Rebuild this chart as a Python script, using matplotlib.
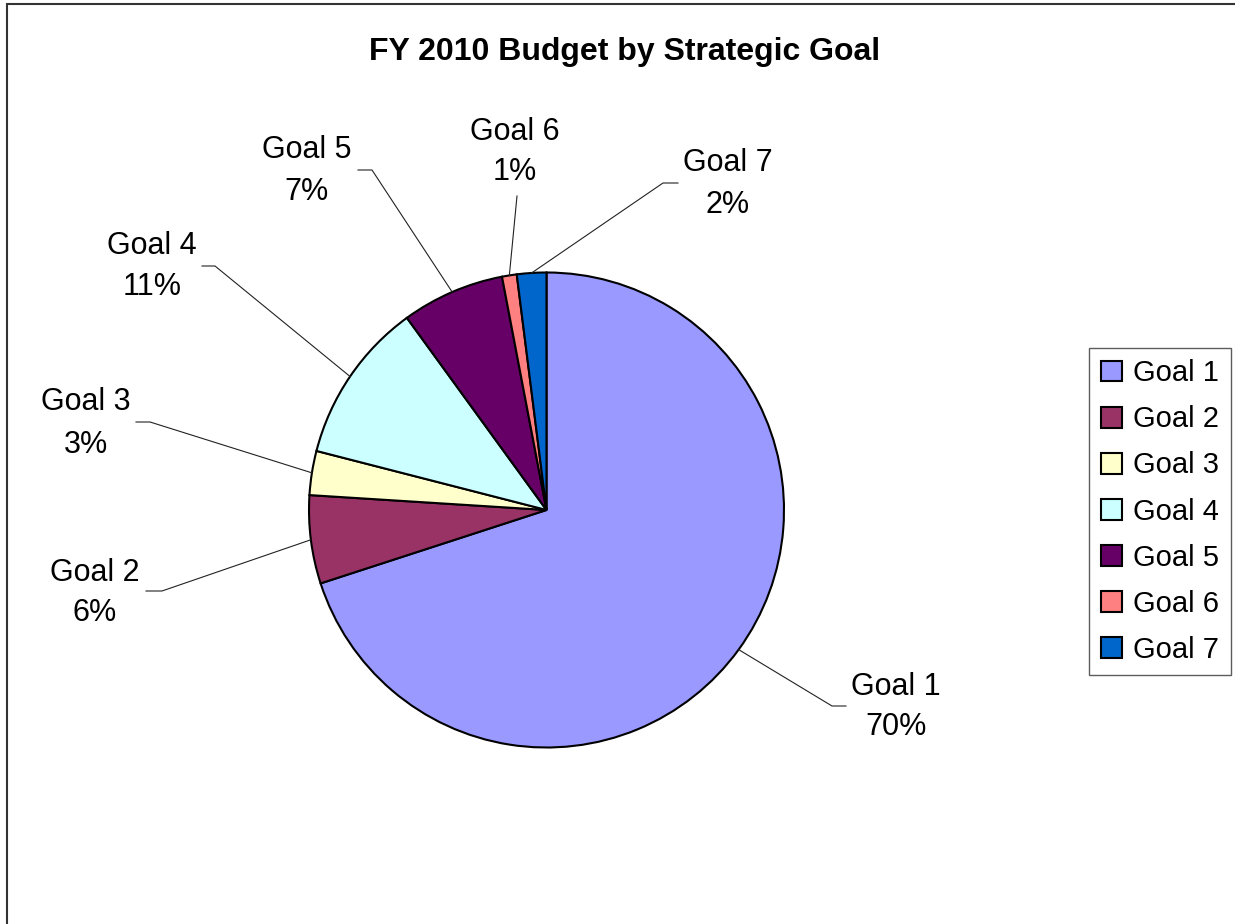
import numpy as np
import matplotlib
matplotlib.use("Agg")
import matplotlib.pyplot as plt
from matplotlib.patches import Rectangle

plt.rcParams['font.family'] = ['Liberation Sans', 'DejaVu Sans']

# chart data
goals = ["Goal 1", "Goal 2", "Goal 3", "Goal 4", "Goal 5", "Goal 6", "Goal 7"]
shares = [70, 6, 3, 11, 7, 1, 2]
colors = ["#9999FF", "#993366", "#FFFFCC", "#CCFFFF", "#660066", "#FF8080", "#0066CC"]
title = "FY 2010 Budget by Strategic Goal"

# layout (figure pixels, measured from top-left): pie and data labels
W, H = 1235, 924
CX, CY, R = 546.5, 510, 237.5
# text centre x, first line y, second line y, elbow x, elbow y, end x of short horizontal tick
label_layout = [
    (896, 687, 727, 832, 706, 846),
    (95, 573, 613, 162, 591, 146),
    (86, 402, 445, 150, 422, 136),
    (152, 246, 287, 215, 266, 202),
    (307, 150, 192, 372, 170, 358),
    (515, 132, 172, 517, 196, 517),
    (728, 163, 205, 663, 183, 678),
]


def to_data(px, py):
    return (px - CX) / R, (CY - py) / R


fig = plt.figure(figsize=(W / 100, H / 100), dpi=100)
ax = fig.add_axes([(CX - R) / W, 1 - (CY + R) / H, 2 * R / W, 2 * R / H])

wedges, _ = ax.pie(shares, colors=colors, startangle=90, counterclock=False, radius=1,
                   wedgeprops=dict(edgecolor='black', linewidth=1.5))
# pie() pads the limits, pin them so radius 1 fills the axes
ax.set_xlim(-1, 1)
ax.set_ylim(-1, 1)
ax.set_aspect('equal')
ax.axis('off')

total = sum(shares)
for w, name, val, lay in zip(wedges, goals, shares, label_layout):
    tx, ty1, ty2, ex, ey, hx = lay
    mid = np.deg2rad((w.theta1 + w.theta2) / 2)
    sx, sy = np.cos(mid), np.sin(mid)
    exd, eyd = to_data(ex, ey)
    hxd, _ = to_data(hx, ey)
    ax.plot([sx, exd, hxd], [sy, eyd, eyd], color='#222222', lw=0.8, clip_on=False)
    x1, y1 = to_data(tx, ty1)
    _, y2 = to_data(tx, ty2)
    ax.text(x1, y1, name, ha='center', va='center', fontsize=22, clip_on=False)
    ax.text(x1, y2, f"{round(100 * val / total)}%", ha='center', va='center', fontsize=22, clip_on=False)

fig.text(624.5 / W, 1 - 52 / H, title, ha='center', va='center', fontsize=23, fontweight='bold')

leg = fig.legend(wedges, goals, loc='center left', bbox_to_anchor=(1089 / W, 1 - 511.5 / H),
                 fontsize=21, frameon=True, fancybox=False, borderaxespad=0,
                 handlelength=0.72, handleheight=0.72, handletextpad=0.4,
                 labelspacing=0.62, borderpad=0.4)
leg.get_frame().set_edgecolor('#333333')
leg.get_frame().set_linewidth(1.0)

# outer chart frame (cropped on right and bottom)
fig.patches.append(Rectangle((7 / W, -0.1), 2, 1 - 4 / H + 0.1, transform=fig.transFigure,
                             fill=False, edgecolor='#333333', linewidth=1.5))

fig.savefig("out.png", dpi=100)
